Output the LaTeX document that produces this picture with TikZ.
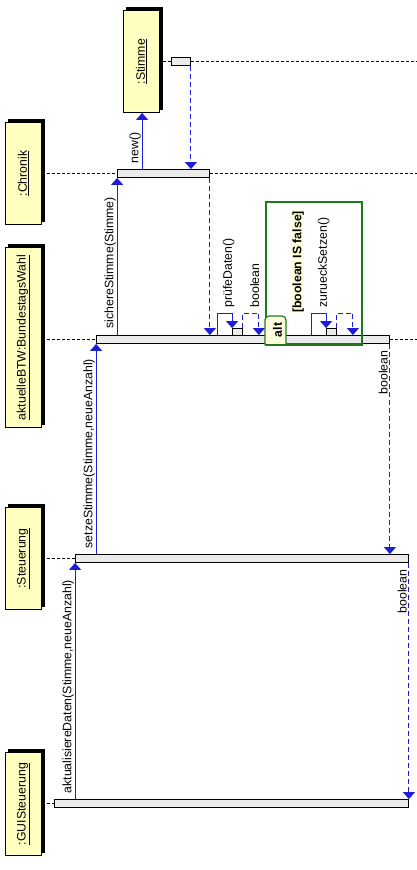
\documentclass[tikz,border=0pt]{standalone}
\usepackage{fontspec}
\setmainfont{Liberation Sans}
\usetikzlibrary{arrows.meta,backgrounds,calc}
\definecolor{objfill}{HTML}{FFFFC0}
\definecolor{actfill}{HTML}{EBEBEB}
\definecolor{msgblue}{HTML}{1E1ED8}
\definecolor{altgreen}{HTML}{1F7A1F}
\definecolor{condfill}{HTML}{FFFFDD}
\tikzset{
  obj/.style={draw=black, line width=0.8pt, fill=objfill, rotate=90, minimum height=36pt, inner sep=0pt, font=\fontsize{12.3}{14}\selectfont},
  act/.style={draw=black, line width=0.8pt, fill=actfill, minimum height=8pt, inner sep=0pt},
  life/.style={draw=black, line width=0.6pt, dash pattern=on 3pt off 2pt},
  msg/.style={draw=msgblue, line width=1pt, -{Triangle[width=12pt,length=7pt,fill=msgblue]}},
  ret/.style={msg, dash pattern=on 5pt off 3pt},
  lbl/.style={rotate=90, anchor=south west, inner sep=0pt, font=\fontsize{12.3}{14}\selectfont},
  rlbl/.style={rotate=90, anchor=south east, inner sep=0pt, font=\fontsize{12.3}{14}\selectfont},
}
\begin{document}
\begin{tikzpicture}[x=1pt,y=-1pt]
\useasboundingbox (0,0) rectangle (416,870);
\begin{scope}[shift={(0.5,0.5)}]
% objects
\node[obj, minimum width=102pt] (stimme) at (141,61) {\underline{:Stimme}};
\node[obj, minimum width=102pt] (chronik) at (23,173) {\underline{:Chronik}};
\node[obj, minimum width=180pt] (btw) at (23,337) {\underline{aktuelleBTW:BundestagsWahl}};
\node[obj, minimum width=102pt] (steuer) at (23,558) {\underline{:Steuerung}};
\node[obj, minimum width=103pt] (gui) at (23,803.5) {\underline{:GUISteuerung}};
\begin{scope}[on background layer]
\foreach \n in {stimme,chronik,btw,steuer,gui}{
  \fill[black] ($(\n.south west)+(3,-3)$) rectangle ($(\n.north east)+(3,-3)$);
}
\end{scope}
% activation bars
\node[act, minimum width=19pt] (sact) at (180.5,61) {};
\node[act, minimum width=92pt] (chact) at (163,173) {};
\node[act, minimum width=293pt] (btwact) at (242.5,339) {};
\node[act, minimum width=333pt] (stact) at (241.5,558) {};
\node[act, minimum width=354pt] (guiact) at (231,803) {};
\node[act, minimum width=10pt, minimum height=7pt] (s1) at (237,331.5) {};
\node[act, minimum width=10pt, minimum height=7pt] (s2) at (331,331.5) {};
% lifeline ends
\coordinate (e1) at (416,61);
\coordinate (e2) at (416,173);
\coordinate (e3) at (416,339);
% lifelines
\draw[life] ($(stimme.south)+(3,0)$) -- (sact.west);
\draw[life] (sact.east) -- (e1);
\draw[life] (chronik.south |- chact.west) -- (chact.west);
\draw[life] (chact.east) -- (e2);
\draw[life] (btw.south |- btwact.west) -- (btwact.west);
\draw[life] (btwact.east) -- (e3);
\draw[life] (steuer.south |- stact.west) -- (stact.west);
\draw[life] (gui.south |- guiact.west) -- (guiact.west);
% messages
\draw[msg] ([xshift=25pt]chact.north west) coordinate (m1) -- (m1 |- stimme.west);
\node[lbl] at (140.5,163) {new()};
\draw[ret] (sact.south east) -- (sact.south east |- chact.north);
\draw[msg] (chact.south west |- btwact.north) -- (chact.south west);
\node[lbl] at (115.5,328) {sichereStimme(Stimme)};
\draw[ret] (chact.south east) -- (chact.south east |- btwact.north);
% self call pruefeDaten
\draw[msg] ([xshift=-15pt]s1.north west |- btwact.north) -- ++(0,-22) -| (s1.north west);
\draw[ret] (s1.north east) -- ++(0,-15) -| ([xshift=16pt]s1.north east |- btwact.north);
\node[lbl] at (234,307) {prüfeDaten()};
\node[lbl] at (259,307) {boolean};
% alt fragment
\node[draw=altgreen, line width=2pt, minimum width=96pt, minimum height=142pt, inner sep=0pt] (altbox) at (313.5,272.5) {};
\draw[draw=altgreen, line width=1.2pt, fill=condfill, rounded corners=4pt] (altbox.south west) -- ++(0,-29) -- ++(21,0) [sharp corners] -- ++(0,29);
\draw[draw=altgreen, line width=2pt] (altbox.south west) -- (altbox.south east);
\node[rotate=90, inner sep=0pt, font=\fontsize{12.3}{14}\selectfont\bfseries] (altlbl) at (277,329.5) {alt};
\node[lbl, fill=condfill, inner sep=0.5pt, font=\fontsize{12.3}{14}\selectfont\bfseries] (cond) at (304,313) {[boolean IS false]};
% self call zurueckSetzen
\draw[msg] ([xshift=-15pt]s2.north west |- btwact.north) -- ++(0,-22) -| (s2.north west);
\draw[ret] (s2.north east) -- ++(0,-15) -| ([xshift=16pt]s2.north east |- btwact.north);
\node[lbl] at (329,307) {zurueckSetzen()};
% steuerung -> btw
\draw[msg] (btwact.south west |- stact.north) -- (btwact.south west);
\node[lbl] at (94.5,548) {setzeStimme(Stimme,neueAnzahl)};
\draw[ret] (btwact.south east) -- (btwact.south east |- stact.north);
\node[rlbl] at (387.5,350) {boolean};
% gui -> steuerung
\draw[msg] (stact.south west |- guiact.north) -- (stact.south west);
\node[lbl] at (73.5,793) {aktualisiereDaten(Stimme,neueAnzahl)};
\draw[ret] (stact.south east) -- (stact.south east |- guiact.north);
\node[rlbl] at (406.5,569) {boolean};
\end{scope}
\end{tikzpicture}
\end{document}
